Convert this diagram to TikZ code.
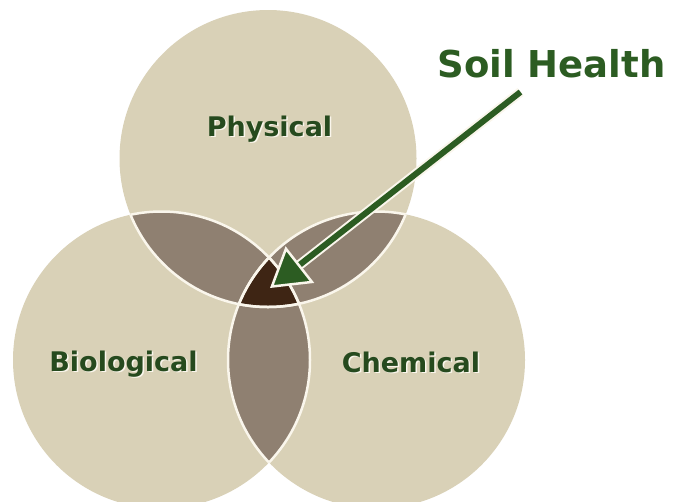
\documentclass[tikz,border=0pt]{standalone}
\usepackage{fontspec}
\setmainfont{DejaVu Sans}
\usepackage{xcolor}
\usetikzlibrary{arrows.meta}

\definecolor{sand}{RGB}{217,209,183}
\definecolor{lens}{RGB}{143,128,113}
\definecolor{heart}{RGB}{62,37,20}
\definecolor{cream}{RGB}{250,246,236}
\definecolor{leaf}{RGB}{44,92,34}
\definecolor{ink}{RGB}{38,74,30}
\newcommand{\glowtext}[1]{\makebox[0pt][l]{\hspace{1.5pt}\raisebox{-1.5pt}{\color{cream}#1}}#1}

\begin{document}
\begin{tikzpicture}[x=1pt, y=-1pt,
    every node/.style={inner sep=0pt, anchor=base},
    ring/.style={draw=cream, line width=2.5pt},
    areatext/.style={font=\fontsize{27}{32}\selectfont\bfseries, text=ink}]
  \useasboundingbox (0,0) rectangle (676,501);
  \def\circPhys{(268,158.5) circle[radius=148.5pt]}
  \def\circBio{(161.5,360) circle[radius=148.5pt]}
  \def\circChem{(376.5,360) circle[radius=148.5pt]}

  % three circles and their overlaps
  \fill[sand] \circPhys; \fill[sand] \circBio; \fill[sand] \circChem;
  \begin{scope}
    \clip \circPhys;
    \fill[lens] \circBio; \fill[lens] \circChem;
  \end{scope}
  \begin{scope}
    \clip \circBio;
    \fill[lens] \circChem;
  \end{scope}
  \begin{scope}
    \clip \circPhys; \clip \circBio;
    \fill[heart] \circChem;
  \end{scope}
  % light edges only where circles overlap
  \foreach \a/\b in {Phys/Bio, Phys/Chem, Bio/Phys, Bio/Chem, Chem/Phys, Chem/Bio} {
    \begin{scope}
      \clip \csname circ\b\endcsname;
      \draw[ring] \csname circ\a\endcsname;
    \end{scope}
  }

  \node[areatext] (phys) at (269.5,136) {\glowtext{Physical}};
  \node[areatext] (bio) at (123.5,371) {\glowtext{Biological}};
  \node[areatext] (chem) at (411,372) {\glowtext{Chemical}};

  % label and arrow
  \node[font=\fontsize{37}{44}\selectfont\bfseries, text=leaf] (soil) at (551.5,77) {Soil Health};
  \coordinate (tail) at ([xshift=-31pt, yshift=-15pt]soil.base);
  \coordinate (core) at (270,288);
  \draw[cream, line width=10pt, shorten >=24pt] (tail) -- (core);
  \draw[leaf, line width=6pt, -{Triangle[length=38pt, width=46pt, color=cream, fill=leaf, line width=2.5pt]}] (tail) -- (core);
\end{tikzpicture}
\end{document}
